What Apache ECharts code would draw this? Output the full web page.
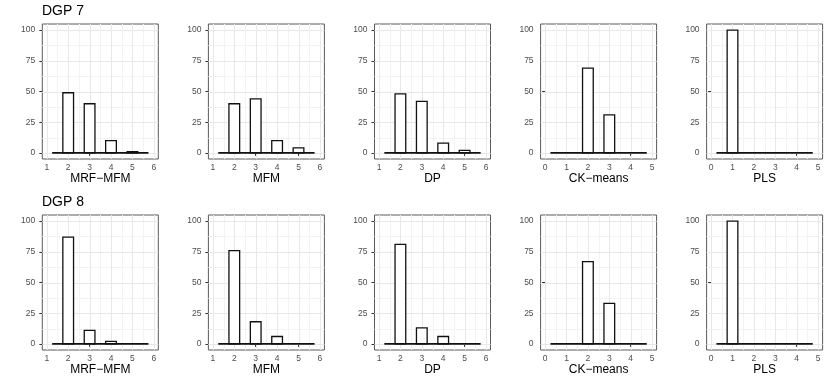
<!DOCTYPE html>
<html><head><meta charset="utf-8">
<script src="https://cdn.jsdelivr.net/npm/echarts@6/dist/echarts.min.js"></script>
<style>html,body{margin:0;padding:0;background:#fff}#c{width:830px;height:382px}</style>
</head><body><div id="c"></div>
<script>
// ---- data ----
const rowTitles = ['DGP 7', 'DGP 8'];
const methods = ['MRF\u2212MFM', 'MFM', 'DP', 'CK\u2212means', 'PLS'];
const clustersA = [2, 3, 4, 5];        // MRF-MFM, MFM, DP
const clustersB = [1, 2, 3, 4];        // CK-means, PLS
const binSpanA = [1.25, 5.75];
const binSpanB = [0.25, 4.75];
const binWidth = 0.5;
const xTicksA = [1, 2, 3, 4, 5, 6];
const xTicksB = [0, 1, 2, 3, 4, 5];
const xMinorA = [1.5, 2.5, 3.5, 4.5, 5.5];
const xMinorB = [0.5, 1.5, 2.5, 3.5, 4.5];
const yTicks = [0, 25, 50, 75, 100];
const yMinor = [12.5, 37.5, 62.5, 87.5];
// DGP 7
const mrf7 = [49, 40, 10, 1];
const mfm7 = [40, 44, 10, 4];
const dp7  = [48, 42, 8, 2];
const ck7  = [0, 69, 31, 0];
const pls7 = [100, 0, 0, 0];
// DGP 8
const mrf8 = [87, 11, 2, 0];
const mfm8 = [76, 18, 6, 0];
const dp8  = [81, 13, 6, 0];
const ck8  = [0, 67, 33, 0];
const pls8 = [100, 0, 0, 0];

const rowValues = [[mrf7, mfm7, dp7, ck7, pls7], [mrf8, mfm8, dp8, ck8, pls8]];

// ---- layout ----
const FONT = '"Liberation Sans", Arial, Helvetica, sans-serif';
const colLeft = [42.3, 208.4, 374.5, 540.6, 706.6];
const rowTop = [24, 215];
const panelW = 116, panelH = 135;

const grids = [], xAxes = [], yAxes = [], series = [], titles = [];
let gi = 0;
rowTitles.forEach((rt, r) => {
  titles.push({ text: rt, left: 42, top: rowTop[r] - 20, padding: 0,
    textStyle: { fontFamily: FONT, fontSize: 14, fontWeight: 'normal', color: '#000' } });
  methods.forEach((m, c) => {
    const isA = c < 3;
    const cl = isA ? clustersA : clustersB;
    const span = isA ? binSpanA : binSpanB;
    const xt = isA ? xTicksA : xTicksB;
    const xm = isA ? xMinorA : xMinorB;
    const center = (span[0] + span[1]) / 2;
    const half = 2.71;
    grids.push({ left: colLeft[c], top: rowTop[r], width: panelW, height: panelH,
      show: true, borderColor: '#5a5a5a', borderWidth: 1, backgroundColor: '#fff' });
    xAxes.push({ type: 'value', gridIndex: gi, min: center - half, max: center + half,
      name: m, nameLocation: 'middle', nameGap: 13,
      nameTextStyle: { fontFamily: FONT, fontSize: 12, color: '#000' },
      axisLine: { show: false },
      axisTick: { show: true, length: 3, customValues: xt, lineStyle: { color: '#333' } },
      axisLabel: { customValues: xt, margin: 4, fontFamily: FONT, fontSize: 8.5, color: '#4d4d4d' },
      splitLine: { show: false } });
    yAxes.push({ type: 'value', gridIndex: gi, min: -5, max: 105,
      axisLine: { show: false },
      axisTick: { show: true, length: 3, customValues: yTicks, lineStyle: { color: '#333' } },
      axisLabel: { customValues: yTicks, margin: 7, fontFamily: FONT, fontSize: 8.5, color: '#4d4d4d' },
      splitLine: { show: false } });
    // gridlines
    const gdata = [];
    xm.forEach(v => gdata.push([v, 0, 0]));
    yMinor.forEach(v => gdata.push([v, 1, 0]));
    xt.forEach(v => gdata.push([v, 0, 1]));
    yTicks.forEach(v => gdata.push([v, 1, 1]));
    series.push({ type: 'custom', xAxisIndex: gi, yAxisIndex: gi, silent: true, z: 1,
      clip: true, data: gdata,
      renderItem: (p, api) => {
        const v = api.value(0), vert = api.value(1) === 0, major = api.value(2) === 1;
        const cs = p.coordSys;
        let shape;
        if (vert) {
          const px = Math.round(api.coord([v, 0])[0]) + 0.5;
          shape = { x1: px, y1: cs.y, x2: px, y2: cs.y + cs.height };
        } else {
          const py = Math.round(api.coord([0, v])[1]) + 0.5;
          shape = { x1: cs.x, y1: py, x2: cs.x + cs.width, y2: py };
        }
        return { type: 'line', shape, style: { stroke: major ? '#e8e8e8' : '#f3f3f3', lineWidth: 1 } };
      } });
    // baseline (zero-count bins)
    series.push({ type: 'custom', xAxisIndex: gi, yAxisIndex: gi, silent: true, z: 3,
      data: [[span[0], 0, span[1]]],
      renderItem: (p, api) => {
        const a = api.coord([api.value(0), 0]), b = api.coord([api.value(2), 0]);
        return { type: 'line', shape: { x1: a[0], y1: a[1], x2: b[0], y2: b[1] },
          style: { stroke: '#111', lineWidth: 1.7 } };
      } });
    // bars
    const vals = rowValues[r][c];
    series.push({ type: 'custom', xAxisIndex: gi, yAxisIndex: gi, silent: true, z: 2,
      data: cl.map((k, i) => [k, vals[i]]),
      renderItem: (p, api) => {
        const x = api.value(0), y = api.value(1);
        if (!y) return null;
        const p0 = api.coord([x - binWidth / 2, 0]);
        const p1 = api.coord([x + binWidth / 2, y]);
        return { type: 'rect',
          shape: { x: p0[0], y: p1[1], width: p1[0] - p0[0], height: p0[1] - p1[1] },
          style: { fill: '#fff', stroke: '#111', lineWidth: 1.3 } };
      } });
    gi++;
  });
});

const chart = echarts.init(document.getElementById('c'));
chart.setOption({ animation: false, backgroundColor: '#fff', title: titles,
  grid: grids, xAxis: xAxes, yAxis: yAxes, series });
</script></body></html>
